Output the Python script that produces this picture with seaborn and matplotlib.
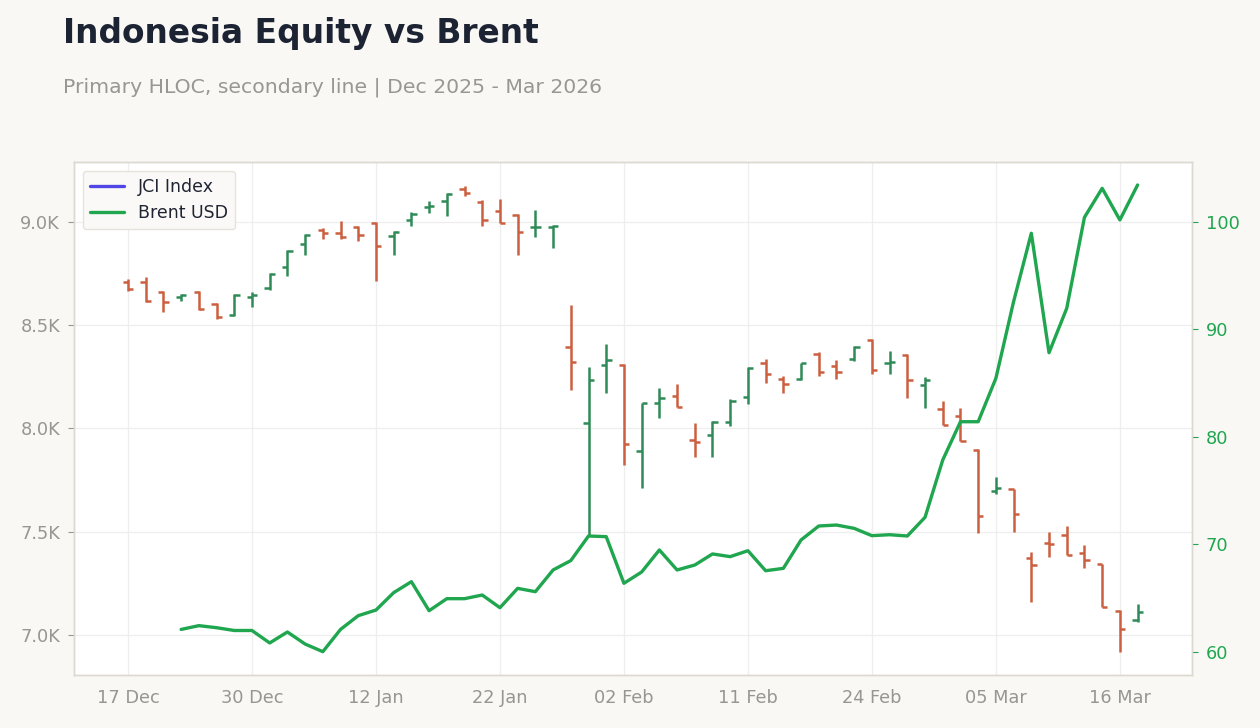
import pandas as pd
import numpy as np
import matplotlib.pyplot as plt
import seaborn as sns
from matplotlib.lines import Line2D
from matplotlib.ticker import FuncFormatter

# Datos (dias de bolsa)
dates = ["17 Dec", "18 Dec", "19 Dec", "22 Dec", "23 Dec", "24 Dec", "29 Dec",
         "30 Dec", "02 Jan", "05 Jan", "06 Jan", "07 Jan", "08 Jan", "09 Jan",
         "12 Jan", "13 Jan", "14 Jan", "15 Jan", "19 Jan", "20 Jan", "21 Jan",
         "22 Jan", "23 Jan", "26 Jan", "27 Jan", "28 Jan", "29 Jan", "30 Jan",
         "02 Feb", "03 Feb", "04 Feb", "05 Feb", "06 Feb", "09 Feb", "10 Feb",
         "11 Feb", "12 Feb", "13 Feb", "18 Feb", "19 Feb", "20 Feb", "23 Feb",
         "24 Feb", "25 Feb", "26 Feb", "27 Feb", "02 Mar", "03 Mar", "04 Mar",
         "05 Mar", "06 Mar", "09 Mar", "10 Mar", "11 Mar", "12 Mar", "13 Mar",
         "16 Mar", "17 Mar"]

jci_open = [8709, 8708, 8659, 8635, 8662, 8601, 8548, 8638, 8679, 8783,
            8893, 8962, 8948, 8974, 8996, 8932, 9009, 9072, 9103, 9161,
            9098, 9054, 9035, 8974, 8977, 8396, 8028, 8309, 8309, 7891,
            8125, 8159, 7946, 7970, 8033, 8154, 8318, 8241, 8238, 8359,
            8304, 8336, 8430, 8318, 8354, 8212, 8096, 8062, 7895, 7699,
            7705, 7374, 7447, 7486, 7399, 7342, 7118, 7073]
jci_high = [8724, 8732, 8667, 8651, 8667, 8609, 8650, 8662, 8751, 8864,
            8942, 8969, 9005, 8980, 9000, 8956, 9047, 9100, 9139, 9174,
            9106, 9111, 9038, 9058, 8984, 8596, 8296, 8409, 8312, 8125,
            8196, 8215, 8025, 8035, 8141, 8296, 8335, 8253, 8316, 8372,
            8330, 8399, 8435, 8374, 8359, 8248, 8133, 8098, 7899, 7764,
            7707, 7400, 7497, 7528, 7436, 7345, 7121, 7150]
jci_low = [8666, 8614, 8565, 8617, 8574, 8529, 8545, 8587, 8670, 8738,
           8841, 8919, 8919, 8909, 8716, 8841, 8982, 9045, 9030, 9126,
           8982, 8993, 8841, 8926, 8875, 8186, 7484, 8170, 7823, 7713,
           8052, 8104, 7863, 7863, 8013, 8120, 8222, 8173, 8235, 8256,
           8241, 8328, 8262, 8262, 8146, 8098, 8017, 7939, 7492, 7681,
           7500, 7158, 7376, 7387, 7326, 7136, 6919, 7063]
jci_close = [8675, 8619, 8614, 8648, 8577, 8541, 8648, 8646, 8748, 8861,
             8938, 8948, 8927, 8937, 8884, 8953, 9037, 9077, 9137, 9139,
             9009, 8996, 8953, 8977, 8982, 8323, 8236, 8332, 7925, 8125,
             8149, 8104, 7936, 8033, 8134, 8294, 8265, 8217, 8316, 8275,
             8275, 8396, 8285, 8323, 8235, 8235, 8017, 7939, 7578, 7713,
             7587, 7340, 7442, 7389, 7363, 7136, 7028, 7111]

brent = [np.nan, np.nan, np.nan, 62.1, 62.45, 62.26, 62.0, 62.0, 60.84, 61.86,
         60.74, 60.03, 62.1, 63.38, 63.9, 65.52, 66.54, 63.84, 64.96, 64.96,
         65.3, 64.12, 65.92, 65.61, 67.63, 68.5, 70.79, 70.73, 66.39, 67.44,
         69.49, 67.63, 68.09, 69.12, 68.87, 69.42, 67.56, 67.78, 70.42, 71.72,
         71.81, 71.5, 70.82, 70.91, 70.79, 72.53, 77.86, 81.42, 81.42, 85.46,
         92.59, 98.95, 87.84, 91.97, 100.43, 103.13, 100.19, 103.44]

df = pd.DataFrame({"fecha": dates, "open": jci_open, "high": jci_high,
                   "low": jci_low, "close": jci_close, "brent": brent})
df["pos"] = np.arange(len(df))

# Estilo
sns.set_theme(style="whitegrid")
plt.rcParams["font.family"] = ["DejaVu Sans"]

c_up = "#2e8b57"
c_down = "#cc5f3f"
c_brent = "#1fa64f"
c_jci = "#5046e5"
c_grid = "#eeeeee"
c_spine = "#ddd8d0"
c_tick = "#999590"

fig = plt.figure(figsize=(12.6, 7.28), dpi=100, facecolor="#f9f8f5")
ax = fig.add_axes([0.0587, 0.0728, 0.8873, 0.7047])
ax.set_facecolor("white")

# HLOC
colores = np.where(df["close"] >= df["open"], c_up, c_down)
w = 0.3
ax.vlines(df["pos"], df["low"], df["high"], colors=colores, linewidth=1.8, zorder=3)
ax.hlines(df["open"], df["pos"] - w, df["pos"], colors=colores, linewidth=1.8, zorder=3)
ax.hlines(df["close"], df["pos"], df["pos"] + w, colors=colores, linewidth=1.8, zorder=3)

ax.set_xlim(-3.05, 60.07)
ax.set_ylim(6806, 9290)
ax.set_yticks([7000, 7500, 8000, 8500, 9000])
ax.yaxis.set_major_formatter(FuncFormatter(lambda v, p: f"{v/1000:.1f}K"))
tick_pos = df["pos"][::7]
ax.set_xticks(tick_pos)
ax.set_xticklabels(df["fecha"][::7])
ax.grid(True, color=c_grid, linewidth=0.9)
ax.tick_params(axis="both", colors=c_tick, labelsize=12.8, length=4, width=0.8,
               labelcolor=c_tick, pad=6)
ax.set_xlabel("")
ax.set_ylabel("")
for s in ax.spines.values():
    s.set_color(c_spine)
    s.set_linewidth(1)

# Linea secundaria
ax2 = ax.twinx()
sns.lineplot(data=df, x="pos", y="brent", ax=ax2, color=c_brent, linewidth=2.4)
ax2.set_ylim(57.86, 105.58)
ax2.set_yticks([60, 70, 80, 90, 100])
ax2.grid(False)
ax2.set_xlabel("")
ax2.set_ylabel("")
ax2.tick_params(axis="y", colors=c_brent, labelsize=12.8, length=4, width=0.8,
                labelcolor=c_brent, pad=6)
for s in ax2.spines.values():
    s.set_color(c_spine)
    s.set_linewidth(1)

# Leyenda
handles = [Line2D([0], [0], color=c_jci, linewidth=2.4),
           Line2D([0], [0], color=c_brent, linewidth=2.4)]
leg = ax2.legend(handles, ["JCI Index", "Brent USD"], loc="upper left",
                 fontsize=12.5, frameon=True, facecolor="#faf9f7",
                 edgecolor="#e6e2dc", framealpha=1, borderaxespad=0.5,
                 handlelength=2.0)
for t in leg.get_texts():
    t.set_color("#1f2433")

# Titulos
fig.text(0.05, 0.941, "Indonesia Equity vs Brent", fontsize=23.7, weight="bold",
         color="#1c2333", va="baseline")
fig.text(0.05, 0.873, "Primary HLOC, secondary line | Dec 2025 - Mar 2026",
         fontsize=14.7, color="#9a9792", va="baseline")

fig.savefig("out.png", dpi=100, facecolor=fig.get_facecolor())
